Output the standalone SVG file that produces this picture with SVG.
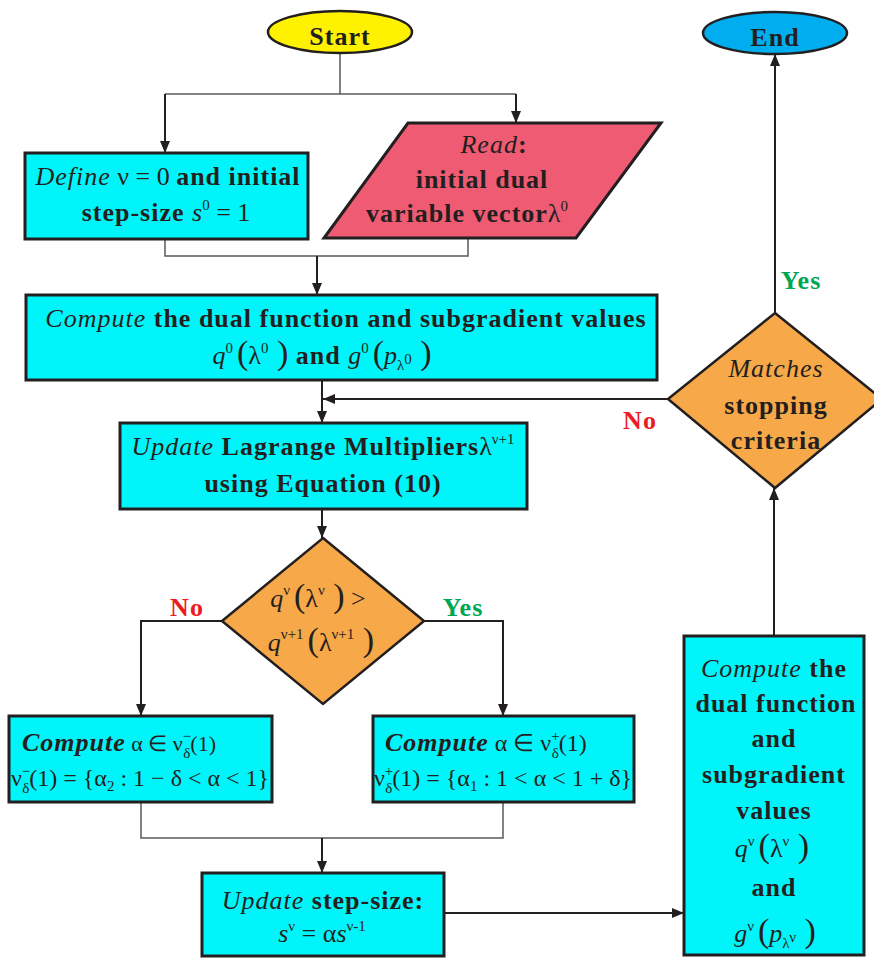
<svg xmlns="http://www.w3.org/2000/svg" width="874" height="958" viewBox="0 0 874 958">
<style>
text{font-family:"Liberation Serif","Times New Roman",serif;font-size:26px;letter-spacing:1px;fill:#231F20;text-anchor:middle;font-weight:bold}
text.st{text-anchor:start}
.i{font-style:italic;font-weight:normal}
.bi{font-style:italic;font-weight:bold}
.m{font-weight:normal;font-style:normal;letter-spacing:0}
.mi{font-weight:normal;font-style:italic;letter-spacing:0}
.sup{font-size:15px;font-weight:normal;font-style:normal;letter-spacing:0}
.par{font-size:34px;font-weight:normal;font-style:normal;letter-spacing:0}
.eq{font-size:24px;letter-spacing:0}
.box{fill:#00F5FA;stroke:#231F20;stroke-width:3}
.dia{fill:#F7A848;stroke:#231F20;stroke-width:2.5}
.con{fill:none;stroke:#231F20;stroke-width:2}
.thin{fill:none;stroke:#58595B;stroke-width:1.5}
.no{fill:#ED1C24}
.yes{fill:#00A651}
</style>
<defs>
<marker id="arr" markerUnits="userSpaceOnUse" markerWidth="12" markerHeight="10" refX="12" refY="5" orient="auto">
<path d="M0,0 L12,5 L0,10 z" fill="#231F20"/>
</marker>
</defs>

<g id="connectors">
<path class="thin" d="M340,53 V94 M165,94 H516"/>
<path class="con" d="M165,94 V153" marker-end="url(#arr)"/>
<path class="con" d="M516,94 V123" marker-end="url(#arr)"/>
<path class="thin" d="M165,239 V256 H468 V238"/>
<path class="con" d="M317,256 V295" marker-end="url(#arr)"/>
<path class="con" d="M322,380 V423" marker-end="url(#arr)"/>
<path class="con" d="M668,399 H323" marker-end="url(#arr)"/>
<path class="con" d="M322,509 V538" marker-end="url(#arr)"/>
<path class="con" d="M424,621 H503 V716" marker-end="url(#arr)"/>
<path class="con" d="M222,621 H141 V716" marker-end="url(#arr)"/>
<path class="thin" d="M141,802 V838 H503 V802"/>
<path class="con" d="M322,838 V873" marker-end="url(#arr)"/>
<path class="con" d="M444,913 H684" marker-end="url(#arr)"/>
<path class="con" d="M774,636 V488" marker-end="url(#arr)"/>
<path class="con" d="M775,313 V54" marker-end="url(#arr)"/>
<text class="no" x="187" y="616">No</text>
<text class="yes" x="463" y="616">Yes</text>
<text class="yes" x="801" y="289">Yes</text>
<text class="no" x="640" y="429">No</text>
</g>

<g id="start">
<ellipse cx="340" cy="32" rx="72" ry="21" fill="#FFF200" stroke="#231F20" stroke-width="2.5"/>
<text x="340" y="45" font-size="35">Start</text>
</g>

<g id="end">
<ellipse cx="775" cy="33" rx="72" ry="21" fill="#00AEEF" stroke="#231F20" stroke-width="2.5"/>
<text x="775" y="46" font-size="35">End</text>
</g>

<g id="define">
<rect class="box" x="25" y="153" width="283" height="86"/>
<text x="168" y="185"><tspan class="i">Define</tspan><tspan class="m"> ν = 0 </tspan> and initial</text>
<text x="166" y="221">step-size <tspan class="mi">s</tspan><tspan class="sup" dy="-11">0</tspan><tspan class="m" dy="11"> = 1</tspan></text>
</g>

<g id="read">
<polygon points="408,123 661,123 576,238 324,238" fill="#EF5B73" stroke="#231F20" stroke-width="3"/>
<text x="494" y="153"><tspan class="i">Read</tspan>:</text>
<text x="482" y="188">initial dual</text>
<text x="467" y="222">variable vector<tspan class="m">λ</tspan><tspan class="sup" dy="-11">0</tspan></text>
</g>

<g id="compute0">
<rect class="box" x="26" y="295" width="631" height="85"/>
<text x="346" y="327"><tspan class="i">Compute</tspan> the dual function and subgradient values</text>
<text x="322" y="364"><tspan class="mi">q</tspan><tspan class="sup" dy="-11">0</tspan><tspan class="par" dy="11" dx="4">(</tspan><tspan class="m">λ</tspan><tspan class="sup" dy="-11">0</tspan><tspan class="par" dy="11"> )</tspan>  and  <tspan class="mi">g</tspan><tspan class="sup" dy="-11">0</tspan><tspan class="par" dy="11" dx="4">(</tspan><tspan class="mi">p</tspan><tspan class="sup" dy="6">λ</tspan><tspan class="sup" font-size="10" dy="-6">0</tspan><tspan class="par" dy="0"> )</tspan></text>
</g>

<g id="update">
<rect class="box" x="120" y="423" width="407" height="86"/>
<text x="323" y="455"><tspan class="i">Update</tspan> Lagrange Multipliers<tspan class="m">λ</tspan><tspan class="sup" dy="-11">ν+1</tspan></text>
<text x="323" y="492">using Equation (10)</text>
</g>

<g id="decision1">
<polygon class="dia" points="323,538 424,621 323,704 222,621"/>
<text x="318" y="607" font-size="27"><tspan class="mi">q</tspan><tspan class="sup" dy="-12">ν</tspan><tspan class="par" dy="12" dx="4">(</tspan><tspan class="m">λ</tspan><tspan class="sup" dy="-12">ν</tspan><tspan class="par" dy="12"> )</tspan><tspan class="m">  &gt;</tspan></text>
<text x="321" y="651" font-size="27"><tspan class="mi">q</tspan><tspan class="sup" dy="-12">ν+1</tspan><tspan class="par" dy="12" dx="4">(</tspan><tspan class="m">λ</tspan><tspan class="sup" dy="-12">ν+1</tspan><tspan class="par" dy="12"> )</tspan></text>
</g>

<g id="computeNo">
<rect class="box" x="9" y="716" width="263" height="86"/>
<text class="st" x="22" y="751"><tspan class="bi">Compute</tspan><tspan class="m" font-size="22">  α ∈ ν</tspan><tspan class="sup" dy="-10">−</tspan><tspan class="sup" dx="-8" dy="17">δ</tspan><tspan class="m" font-size="22" dy="-7">(1)</tspan></text>
<text class="eq" x="140" y="786"><tspan class="m">ν</tspan><tspan class="sup" dy="-10">−</tspan><tspan class="sup" dx="-8" dy="17">δ</tspan><tspan class="m" dy="-7">(1) = {α</tspan><tspan class="sup" dy="5">2</tspan><tspan class="m" dy="-5"> : 1 − δ &lt; α &lt; 1}</tspan></text>
</g>

<g id="computeYes">
<rect class="box" x="373" y="716" width="261" height="86"/>
<text class="st" x="385" y="751"><tspan class="bi">Compute</tspan><tspan class="m" font-size="24"> α ∈ ν</tspan><tspan class="sup" dy="-10">+</tspan><tspan class="sup" dx="-8" dy="17">δ</tspan><tspan class="m" font-size="24" dy="-7">(1)</tspan></text>
<text class="eq" x="503" y="786"><tspan class="m">ν</tspan><tspan class="sup" dy="-10">+</tspan><tspan class="sup" dx="-8" dy="17">δ</tspan><tspan class="m" dy="-7">(1) = {α</tspan><tspan class="sup" dy="5">1</tspan><tspan class="m" dy="-5"> : 1 &lt; α &lt; 1 + δ}</tspan></text>
</g>

<g id="stepsize">
<rect class="box" x="202" y="873" width="242" height="83"/>
<text x="323" y="909"><tspan class="i">Update</tspan> step-size:</text>
<text x="322" y="942"><tspan class="mi">s</tspan><tspan class="sup" dy="-11">ν</tspan><tspan class="m" dy="11"> = α</tspan><tspan class="mi">s</tspan><tspan class="sup" dy="-11">ν-1</tspan></text>
</g>

<g id="computeV">
<rect class="box" x="684" y="636" width="180" height="319"/>
<text x="774" y="677"><tspan class="i">Compute</tspan> the</text>
<text x="776" y="712">dual function</text>
<text x="774" y="747">and</text>
<text x="774" y="783">subgradient</text>
<text x="774" y="819">values</text>
<text x="772" y="857"><tspan class="mi">q</tspan><tspan class="sup" dy="-11">ν</tspan><tspan class="par" dy="11" dx="4">(</tspan><tspan class="m">λ</tspan><tspan class="sup" dy="-11">ν</tspan><tspan class="par" dy="11"> )</tspan></text>
<text x="774" y="896">and</text>
<text x="775" y="942"><tspan class="mi">g</tspan><tspan class="sup" dy="-11">ν</tspan><tspan class="par" dy="11" dx="4">(</tspan><tspan class="mi">p</tspan><tspan class="sup" dy="6">λ</tspan><tspan class="sup" font-size="10" dy="-6">ν</tspan><tspan class="par" dy="0"> )</tspan></text>
</g>

<g id="decision2">
<polygon class="dia" points="775,313 882,399 775,488 668,399"/>
<text x="776" y="377"><tspan class="i">Matches</tspan></text>
<text x="776" y="414">stopping</text>
<text x="776" y="449">criteria</text>
</g>
</svg>
